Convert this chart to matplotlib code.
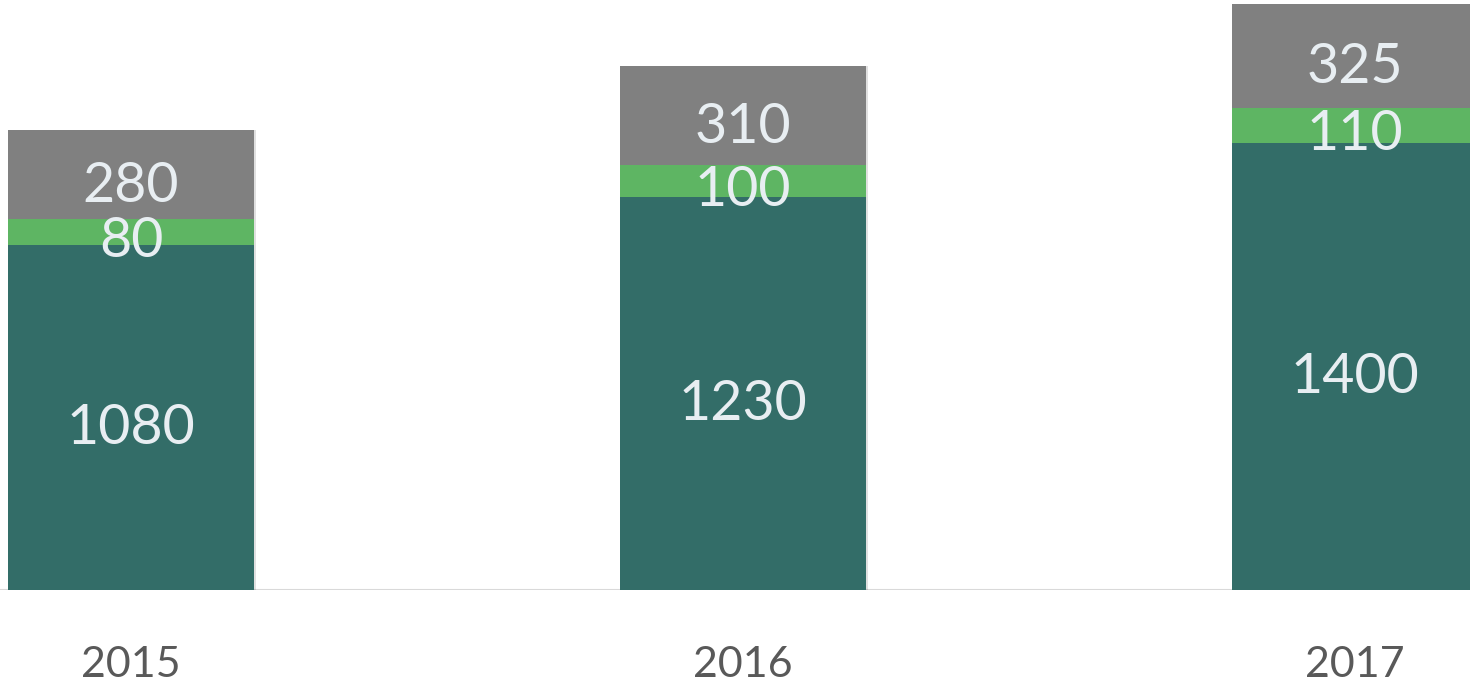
import matplotlib
matplotlib.use("Agg")
import matplotlib.pyplot as plt
import matplotlib.patheffects as pe

years = ["2015", "2016", "2017"]
base = [1080, 1230, 1400]
mid = [80, 100, 110]
top = [280, 310, 325]

c_base = "#336d68"
c_mid = "#5eb563"
c_top = "#808080"
c_lbl = "#e8eef2"

plt.rcParams['font.family'] = ['Lato', 'DejaVu Sans']

fig = plt.figure(figsize=(14.7, 6.86), dpi=100)
ax = fig.add_axes([0, 96/686, 1, 590/686])

x = list(range(len(years)))
w = 0.402


def shadow():
    return [pe.SimplePatchShadow(offset=(1.5, 0), alpha=0.12, shadow_rgbFace="black"), pe.Normal()]


bars1 = ax.bar(x, base, width=w, color=c_base, zorder=2)
bottom3 = [a + b for a, b in zip(base, mid)]
bars2 = ax.bar(x, mid, width=w, bottom=base, color=c_mid, zorder=2)
bars3 = ax.bar(x, top, width=w, bottom=bottom3, color=c_top, zorder=2)
for bc in (bars1, bars2, bars3):
    for p in bc:
        p.set_path_effects(shadow())

fs = 40
for i in x:
    ax.text(i, base[i] / 2 - 35, str(base[i]), ha='center', va='center', fontsize=fs, color=c_lbl, zorder=3)
    ax.text(i, base[i] + mid[i] / 2 - 28, str(mid[i]), ha='center', va='center', fontsize=fs, color=c_lbl, zorder=3)
    ax.text(i, bottom3[i] + top[i] / 2 - 38, str(top[i]), ha='center', va='center', fontsize=fs, color=c_lbl, zorder=3)

ax.set_xlim(-131/612, (1470-131)/612)
ax.set_ylim(0, 590/0.3194)
ax.axhline(0, color="#d9d9d9", lw=1.5, zorder=1)
for s in ax.spines.values():
    s.set_visible(False)
ax.set_yticks([])
ax.set_xticks(x)
ax.set_xticklabels(years, fontsize=31, color="#595959")
ax.tick_params(axis='x', length=0, pad=40)

fig.savefig("out.png", dpi=100)
